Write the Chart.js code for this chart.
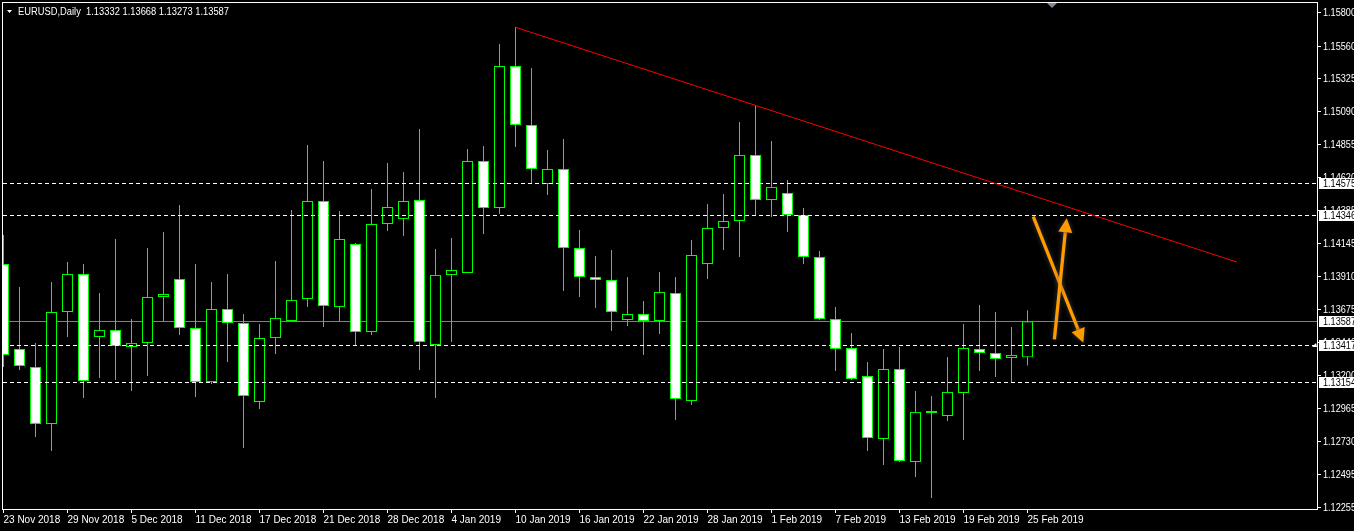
<!DOCTYPE html>
<html><head><meta charset="utf-8">
<script src="https://cdn.jsdelivr.net/npm/chart.js@4.4.1/dist/chart.umd.min.js"></script>
<style>html,body{margin:0;padding:0;background:#000;overflow:hidden}#wrap{position:relative;width:1354px;height:531px}</style>
</head><body><div id="wrap"><canvas id="c"></canvas></div>
<script>
const symbolTitle = 'EURUSD,Daily';
const dateLabels = ['23 Nov 2018','29 Nov 2018','5 Dec 2018','11 Dec 2018','17 Dec 2018','21 Dec 2018','28 Dec 2018','4 Jan 2019','10 Jan 2019','16 Jan 2019','22 Jan 2019','28 Jan 2019','1 Feb 2019','7 Feb 2019','13 Feb 2019','19 Feb 2019','25 Feb 2019'];
const opens = [1.13999,1.13391,1.13262,1.12854,1.13656,1.13928,1.13477,1.13527,1.13405,1.13434,
1.13763,1.13892,1.13541,1.13154,1.13677,1.13577,1.13011,1.13469,1.13591,1.13749,
1.14450,1.13691,1.14142,1.13512,1.14286,1.14321,1.14458,1.13419,1.13921,1.13935,
1.14737,1.14400,1.15417,1.14995,1.14572,1.14679,1.14114,1.13906,1.13885,1.13598,
1.13641,1.13591,1.13792,1.13018,1.13999,1.14257,1.14307,1.14780,1.14458,1.14508,
1.14350,1.14049,1.13605,1.13398,1.13197,1.12746,1.13247,1.12582,1.12933,1.12911,
1.13076,1.13391,1.13362,1.13326,1.13332];
const highs = [1.14207,1.13835,1.13434,1.13870,1.14014,1.13999,1.13792,1.14178,1.13605,1.14114,
1.14228,1.14422,1.13999,1.13870,1.13928,1.13641,1.13570,1.14021,1.14386,1.14851,
1.14737,1.14379,1.14150,1.14536,1.14722,1.14658,1.14966,1.14107,1.14185,1.14823,
1.14844,1.15574,1.15696,1.15403,1.14816,1.14894,1.14243,1.14057,1.14100,1.13906,
1.13734,1.13942,1.13906,1.14171,1.14429,1.14500,1.15016,1.15131,1.14880,1.14601,
1.14400,1.14092,1.13691,1.13505,1.13298,1.13391,1.13405,1.13090,1.13054,1.13333,
1.13570,1.13706,1.13656,1.13548,1.13668];
const lows = [1.13262,1.13240,1.12761,1.12660,1.13477,1.13040,1.13183,1.13169,1.13090,1.13197,
1.13591,1.13491,1.13047,1.13140,1.13298,1.12682,1.12961,1.13355,1.13588,1.13691,
1.13548,1.13591,1.13412,1.13491,1.14236,1.14200,1.13240,1.13040,1.13441,1.13935,
1.14214,1.14357,1.14837,1.14579,1.14493,1.13806,1.13763,1.13684,1.13520,1.13555,
1.13348,1.13498,1.12882,1.12990,1.13892,1.14100,1.14049,1.14350,1.14336,1.14228,
1.13999,1.13598,1.13233,1.13169,1.12660,1.12560,1.12582,1.12474,1.12324,1.12875,
1.12739,1.13233,1.13190,1.13154,1.13273];
const closes = [1.13348,1.13269,1.12854,1.13656,1.13928,1.13162,1.13527,1.13412,1.13434,1.13763,
1.13784,1.13541,1.13154,1.13677,1.13577,1.13054,1.13469,1.13613,1.13742,1.14450,
1.13699,1.14178,1.13512,1.14286,1.14407,1.14450,1.13441,1.13921,1.13956,1.14737,
1.14400,1.15417,1.14995,1.14679,1.14679,1.14114,1.13906,1.13885,1.13656,1.13641,
1.13591,1.13799,1.13033,1.14064,1.14257,1.14307,1.14780,1.14458,1.14551,1.14350,
1.14049,1.13605,1.13391,1.13176,1.12753,1.13247,1.12589,1.12940,1.12947,1.13083,
1.13398,1.13362,1.13319,1.13348,1.13587];
const priceTicks = [1.15800,1.15560,1.15325,1.15090,1.14855,1.14620,1.14385,1.14145,1.13910,1.13675,1.13440,1.13200,1.12965,1.12730,1.12495,1.12255];
const dashedLevels = [1.14575,1.14346,1.13417,1.13154];
const bidLevel = [1.13587];
const trendX = [32, 77.09];
const trendY = [1.15694, 1.14013];
const arrowDownX = [64.36, 67.49];
const arrowDownY = [1.14338, 1.13436];
const arrowUpX = [65.68, 66.45];
const arrowUpY = [1.13460, 1.14326];
const shiftMarkerX = [65.53];

const FONT = "'Liberation Sans', Arial, sans-serif";
const X_MIN = -0.09375, X_MAX = 82.09375;
const Y_MIN = 1.122449, Y_MAX = 1.158752;

const wickData = opens.map((o,i)=>({x:i, y:[lows[i], highs[i]]}));
const bodyData = opens.map((o,i)=>({x:i, y:[o, closes[i]]}));
const bodyFill = opens.map((o,i)=> closes[i] >= o ? '#000000' : '#ffffff');

function drawArrow(ctx,x0,y0,x1,y1){
  const ang = Math.atan2(y1-y0, x1-x0);
  const hl = 14, hw = 7;
  const bx = x1 - hl*Math.cos(ang), by = y1 - hl*Math.sin(ang);
  ctx.beginPath(); ctx.moveTo(x0,y0); ctx.lineTo(bx,by); ctx.stroke();
  ctx.beginPath(); ctx.moveTo(x1,y1);
  ctx.lineTo(bx + hw*Math.sin(ang), by - hw*Math.cos(ang));
  ctx.lineTo(bx - hw*Math.sin(ang), by + hw*Math.cos(ang));
  ctx.closePath(); ctx.fill();
}

const overlay = {
  id:'overlay',
  beforeDatasetsDraw(chart){
    const {ctx, chartArea:a, scales:{y}} = chart;
    ctx.save();
    ctx.strokeStyle = '#808080'; ctx.lineWidth = 1;
    bidLevel.forEach(v=>{
      const py = Math.floor(y.getPixelForValue(v)) + 0.5;
      ctx.beginPath(); ctx.moveTo(a.left, py); ctx.lineTo(a.right, py); ctx.stroke();
    });
    ctx.restore();
  },
  afterDatasetsDraw(chart){
    const {ctx, chartArea:a, scales:{x,y}} = chart;
    ctx.save();
    ctx.beginPath(); ctx.rect(a.left, a.top, a.right-a.left, a.bottom-a.top); ctx.clip();
    ctx.strokeStyle = '#ffffff'; ctx.lineWidth = 1; ctx.setLineDash([4,3]);
    dashedLevels.forEach(v=>{
      const py = Math.floor(y.getPixelForValue(v)) + 0.5;
      ctx.beginPath(); ctx.moveTo(a.left+1, py); ctx.lineTo(a.right, py); ctx.stroke();
    });
    ctx.setLineDash([]);
    ctx.strokeStyle = '#ff0000';
    ctx.beginPath();
    ctx.moveTo(x.getPixelForValue(trendX[0]), y.getPixelForValue(trendY[0]));
    ctx.lineTo(x.getPixelForValue(trendX[1]), y.getPixelForValue(trendY[1]));
    ctx.stroke();
    ctx.strokeStyle = '#ff9a00'; ctx.fillStyle = '#ff9a00'; ctx.lineWidth = 3.3;
    ctx.shadowColor = 'rgba(90,90,90,0.7)'; ctx.shadowBlur = 5;
    drawArrow(ctx, x.getPixelForValue(arrowDownX[0]), y.getPixelForValue(arrowDownY[0]), x.getPixelForValue(arrowDownX[1]), y.getPixelForValue(arrowDownY[1]));
    drawArrow(ctx, x.getPixelForValue(arrowUpX[0]), y.getPixelForValue(arrowUpY[0]), x.getPixelForValue(arrowUpX[1]), y.getPixelForValue(arrowUpY[1]));
    ctx.restore();
  },
  afterDraw(chart){
    const {ctx, chartArea:a, scales:{x,y}} = chart;
    ctx.save();
    ctx.strokeStyle = '#ffffff'; ctx.lineWidth = 1;
    ctx.strokeRect(a.left+0.5, a.top+0.5, a.right-a.left, a.bottom-a.top);
    // price scale labels
    ctx.font = '10px ' + FONT; ctx.textAlign = 'left'; ctx.textBaseline = 'middle';
    ctx.fillStyle = '#ffffff';
    priceTicks.forEach(v=>{
      const py = Math.floor(y.getPixelForValue(v)) + 0.5;
      ctx.fillText(v.toFixed(5), a.right+6, py+0.5, 33);
    });
    // shift marker
    const sx = x.getPixelForValue(shiftMarkerX[0]);
    ctx.fillStyle = '#7f8a96';
    ctx.beginPath(); ctx.moveTo(sx-5, a.top+1); ctx.lineTo(sx+5, a.top+1); ctx.lineTo(sx, a.top+6); ctx.closePath(); ctx.fill();
    // title
    ctx.fillStyle = '#ffffff';
    ctx.beginPath(); ctx.moveTo(7,10); ctx.lineTo(12,10); ctx.lineTo(9.5,13); ctx.closePath(); ctx.fill();
    ctx.textBaseline = 'alphabetic';
    const n = opens.length-1;
    const title = symbolTitle + '  ' + [opens[n],highs[n],lows[n],closes[n]].map(v=>v.toFixed(5)).join(' ');
    ctx.fillText(title, 18, 14.5, 211);
    // level boxes
    [...dashedLevels, ...bidLevel].forEach(v=>{
      const py = Math.floor(y.getPixelForValue(v)) + 0.5;
      ctx.fillStyle = '#ffffff';
      ctx.fillRect(a.right+2, Math.round(py-5.5), 40, 11);
      ctx.fillStyle = '#000000'; ctx.textBaseline = 'middle';
      ctx.fillText(v.toFixed(5), a.right+6, py+0.5, 33);
    });
    // small anchor marker
    const my = Math.floor(y.getPixelForValue(dashedLevels[2]));
    ctx.fillStyle = '#ffffff';
    ctx.beginPath(); ctx.moveTo(a.right-5, my+2); ctx.lineTo(a.right-1, my-2); ctx.lineTo(a.right, my+2); ctx.closePath(); ctx.fill();
    ctx.restore();
  }
};

Chart.defaults.font.family = FONT;
Chart.defaults.font.size = 10;
new Chart(document.getElementById('c'), {
  type:'bar',
  data:{
    datasets:[
      {label:'wick', data:wickData, backgroundColor:'#00ff00', borderWidth:0, barThickness:1, maxBarThickness:1, grouped:false, inflateAmount:0, order:3},
      {label:'body', data:bodyData, backgroundColor:bodyFill, borderColor:'#00ff00', borderWidth:1, borderSkipped:false, barThickness:11, maxBarThickness:11, grouped:false, inflateAmount:0, minBarLength:2, order:2}
    ]
  },
  options:{
    responsive:true, maintainAspectRatio:false, animation:false, events:[],
    layout:{padding:{top:2, left:2, right:0, bottom:0}},
    plugins:{legend:{display:false}, tooltip:{enabled:false}},
    scales:{
      x:{type:'linear', min:X_MIN, max:X_MAX, offset:false, position:'bottom',
        afterBuildTicks:s=>{ s.ticks = dateLabels.map((_,i)=>({value:i*4})); },
        afterFit:s=>{ s.height = 22; s.paddingLeft = 0; s.paddingRight = 0; },
        ticks:{autoSkip:false, maxRotation:0, minRotation:0, align:'start', color:'#ffffff', padding:1, font:{size:10}, callback:(v,i)=>dateLabels[i]},
        grid:{drawOnChartArea:false, drawTicks:true, tickLength:4, color:'#ffffff', offset:false},
        border:{display:false}
      },
      y:{type:'linear', position:'right', min:Y_MIN, max:Y_MAX,
        afterBuildTicks:s=>{ s.ticks = priceTicks.map(v=>({value:v})); },
        afterFit:s=>{ s.width = 37; s.paddingTop = 0; s.paddingBottom = 0; },
        ticks:{display:false, autoSkip:false},
        grid:{drawOnChartArea:false, drawTicks:true, tickLength:4, color:'#ffffff'},
        border:{display:false}
      }
    }
  },
  plugins:[overlay]
});
</script></body></html>
